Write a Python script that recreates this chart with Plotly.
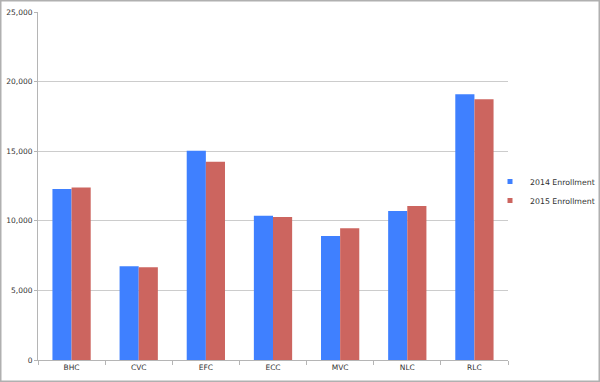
import plotly.graph_objects as go

categories = ["BHC", "CVC", "EFC", "ECC", "MVC", "NLC", "RLC"]
enroll_2014 = [12280, 6730, 15040, 10370, 8910, 10700, 19090]
enroll_2015 = [12400, 6660, 14250, 10270, 9460, 11060, 18730]
series_names = ["2014 Enrollment", "2015 Enrollment"]
series_colors = ["#3F80FF", "#CC655F"]
y_ticks = [0, 5000, 10000, 15000, 20000, 25000]

W, H = 600, 382
L, R, T, B = 38, 92, 12, 22
pw, ph = W - L - R, H - T - B

fig = go.Figure()
for vals, name, col in zip([enroll_2014, enroll_2015], series_names, series_colors):
    fig.add_trace(go.Bar(x=categories, y=vals, name=name, showlegend=False,
                         marker=dict(color=col, line=dict(width=0))))
# legend proxies with small square markers
for name, col in zip(series_names, series_colors):
    fig.add_trace(go.Scatter(x=[None], y=[None], mode="markers", name=name,
                             marker=dict(symbol="square", size=5, color=col)))

fig.update_layout(
    width=W, height=H,
    margin=dict(l=L, r=R, t=T, b=B, pad=0, autoexpand=False),
    paper_bgcolor="white", plot_bgcolor="white",
    barmode="group", bargap=0.43, bargroupgap=0,
    font=dict(family="DejaVu Sans", size=7.5, color="#333333"),
    showlegend=True,
    legend=dict(x=(490 - L) / pw, y=(360 - 191) / ph, xanchor="left", yanchor="middle",
                font=dict(size=7.8, color="#333333"), itemwidth=30,
                bgcolor="rgba(0,0,0,0)", tracegroupgap=0),
    xaxis=dict(showgrid=False, showline=True, linecolor="#b5b5b5", linewidth=1,
               ticks="outside", tickson="boundaries", ticklen=4, tickcolor="#b5b5b5",
               tickfont=dict(size=7.5, color="#333333")),
    yaxis=dict(range=[0, 25000], tickvals=y_ticks, tickformat=",", showgrid=True,
               gridcolor="#cccccc", gridwidth=1, showline=True, linecolor="#b5b5b5",
               ticks="outside", ticklen=3, tickcolor="#b5b5b5", zeroline=False,
               tickfont=dict(size=7.5, color="#333333")),
    shapes=[dict(type="rect", xref="paper", yref="paper",
                 x0=-(L - 0.75) / pw, x1=1 + (R - 0.75) / pw,
                 y0=-(B - 0.75) / ph, y1=1 + (T - 0.75) / ph,
                 line=dict(color="#b0b0b0", width=1.5), layer="above")],
)

fig.write_html("out.html", config={"displayModeBar": False},
               post_script="document.body.style.margin='0';")
